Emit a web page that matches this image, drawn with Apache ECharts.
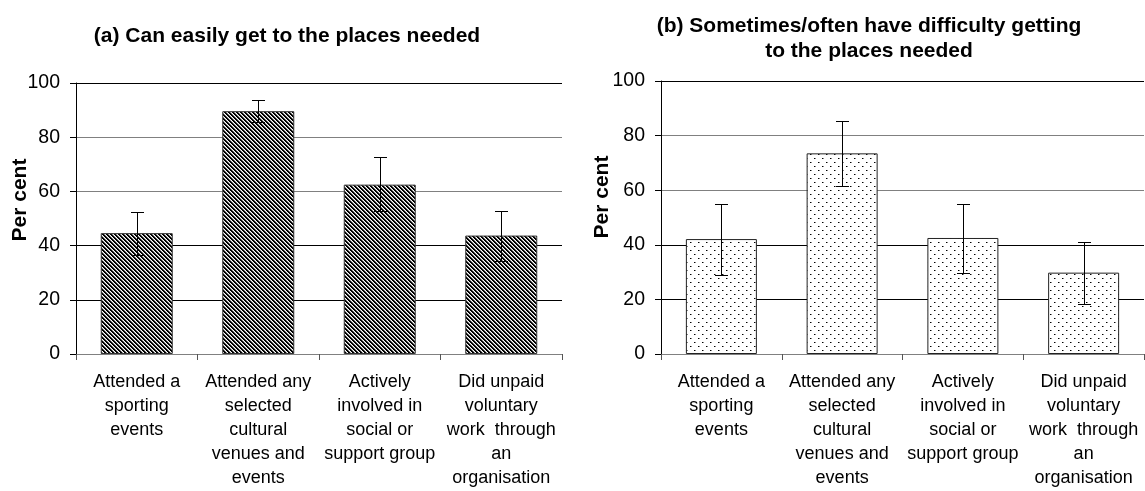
<!DOCTYPE html>
<html>
<head>
<meta charset="utf-8">
<script src="https://cdn.jsdelivr.net/npm/echarts@6/dist/echarts.min.js"></script>
<style>
html,body{margin:0;padding:0;background:#fff;}
#chart{width:1145px;height:491px;}
</style>
</head>
<body>
<div id="chart"></div>
<script>
const categories = [
  'Attended a\nsporting\nevents',
  'Attended any\nselected\ncultural\nvenues and\nevents',
  'Actively\ninvolved in\nsocial or\nsupport group',
  'Did unpaid\nvoluntary\nwork  through\nan\norganisation'
];
const titleA = '(a) Can easily get to the places needed';
const titleB = '(b) Sometimes/often have difficulty getting\nto the places needed';
const yAxisName = 'Per cent';
const valuesA = [44.6, 89.6, 62.5, 43.7];
const errLowA = [36.4, 85.5, 52.6, 34.5];
const errHighA = [52.5, 93.9, 72.6, 52.7];
const valuesB = [42.1, 73.5, 42.5, 29.8];
const errLowB = [29.1, 61.6, 29.8, 18.2];
const errHighB = [55.0, 85.2, 55.1, 41.1];
const yMin = 0, yMax = 100, yStep = 20;

const FONT = '"Liberation Sans", Arial, sans-serif';

function stripePattern() {
  const N = 4;
  const c = document.createElement('canvas');
  c.width = N; c.height = N;
  const ctx = c.getContext('2d');
  ctx.fillStyle = '#fff';
  ctx.fillRect(0, 0, N, N);
  for (let y = 0; y < N; y++) {
    for (let x = 0; x < N; x++) {
      const d = ((x - y) % N + N) % N;
      if (d < 2) { ctx.fillStyle = '#000'; ctx.fillRect(x, y, 1, 1); }
      else if (d === 2) { ctx.fillStyle = '#9a9a9a'; ctx.fillRect(x, y, 1, 1); }
    }
  }
  return c;
}
function dotPattern() {
  const W = 8, H = 8;
  const c = document.createElement('canvas');
  c.width = W; c.height = H;
  const ctx = c.getContext('2d');
  ctx.fillStyle = '#fff';
  ctx.fillRect(0, 0, W, H);
  ctx.fillStyle = '#000';
  ctx.fillRect(2, 2, 1, 1);
  ctx.fillRect(6, 6, 1, 1);
  ctx.fillStyle = '#888';
  ctx.fillRect(3, 2, 1, 1);
  ctx.fillRect(7, 6, 1, 1);
  return c;
}

function errorRender(params, api) {
  const x = api.value(0);
  const lo = api.coord([x, api.value(1)]);
  const hi = api.coord([x, api.value(2)]);
  const cx = Math.round(lo[0]) + 0.5;
  const yl = Math.round(lo[1]) + 0.5;
  const yh = Math.round(hi[1]) + 0.5;
  const w = 6.5;
  const st = { stroke: '#000', lineWidth: 1 };
  return {
    type: 'group',
    children: [
      { type: 'line', shape: { x1: cx, y1: yh, x2: cx, y2: yl }, style: st },
      { type: 'line', shape: { x1: cx - w, y1: yh, x2: cx + w, y2: yh }, style: st },
      { type: 'line', shape: { x1: cx - w, y1: yl, x2: cx + w, y2: yl }, style: st }
    ]
  };
}

const gridColors = ['#808080', '#000', '#000', '#808080', '#808080', '#000'];

function makeX(gi) {
  return {
    type: 'category', gridIndex: gi, data: categories, boundaryGap: true,
    axisLine: { show: true, lineStyle: { color: '#808080', width: 1 } },
    axisTick: { show: true, length: 6, alignWithLabel: false, lineStyle: { color: '#555' } },
    axisLabel: { interval: 0, color: '#000', fontSize: 18, lineHeight: 24, fontFamily: FONT, margin: 16 },
    splitLine: { show: false }
  };
}
function makeY(gi) {
  return {
    type: 'value', gridIndex: gi, min: yMin, max: yMax, interval: yStep,
    axisLine: { show: true, lineStyle: { color: '#000', width: 1 } },
    axisTick: { show: true, length: 6, lineStyle: { color: '#000' } },
    axisLabel: { color: '#000', fontSize: 19.5, fontFamily: FONT, margin: 16 },
    splitLine: { show: true, lineStyle: { color: gridColors, width: 1 } }
  };
}

const chart = echarts.init(document.getElementById('chart'), null, { renderer: 'canvas' });
chart.setOption({
  backgroundColor: '#fff',
  animation: false,
  title: [
    { text: titleA, left: 282, top: 21, textAlign: 'center',
      textStyle: { fontFamily: FONT, fontWeight: 'bold', fontSize: 21, color: '#000' } },
    { text: titleB, left: 864, top: 9, textAlign: 'center',
      textStyle: { fontFamily: FONT, fontWeight: 'bold', fontSize: 21, lineHeight: 25, color: '#000', align: 'center' } }
  ],
  graphic: [
    { type: 'text', x: 20, y: 200, rotation: Math.PI / 2,
      style: { text: yAxisName, font: 'bold 21px ' + FONT, fill: '#000', textAlign: 'center', textVerticalAlign: 'middle' } },
    { type: 'text', x: 602, y: 197, rotation: Math.PI / 2,
      style: { text: yAxisName, font: 'bold 21px ' + FONT, fill: '#000', textAlign: 'center', textVerticalAlign: 'middle' } }
  ],
  grid: [
    { left: 76, top: 83, width: 486, height: 271, containLabel: false },
    { left: 661, top: 81, width: 483, height: 273, containLabel: false }
  ],
  xAxis: [makeX(0), makeX(1)],
  yAxis: [makeY(0), makeY(1)],
  series: [
    { type: 'bar', xAxisIndex: 0, yAxisIndex: 0, data: valuesA, barWidth: 72,
      itemStyle: { color: { image: stripePattern(), repeat: 'repeat' }, borderColor: '#333', borderWidth: 1 } },
    { type: 'custom', xAxisIndex: 0, yAxisIndex: 0, renderItem: errorRender, z: 5,
      encode: { x: 0, y: [1, 2] },
      data: categories.map((c, i) => [i, errLowA[i], errHighA[i]]) },
    { type: 'bar', xAxisIndex: 1, yAxisIndex: 1, data: valuesB, barWidth: 71,
      itemStyle: { color: { image: dotPattern(), repeat: 'repeat' }, borderColor: '#222', borderWidth: 1 } },
    { type: 'custom', xAxisIndex: 1, yAxisIndex: 1, renderItem: errorRender, z: 5,
      encode: { x: 0, y: [1, 2] },
      data: categories.map((c, i) => [i, errLowB[i], errHighB[i]]) }
  ]
});
</script>
</body>
</html>
